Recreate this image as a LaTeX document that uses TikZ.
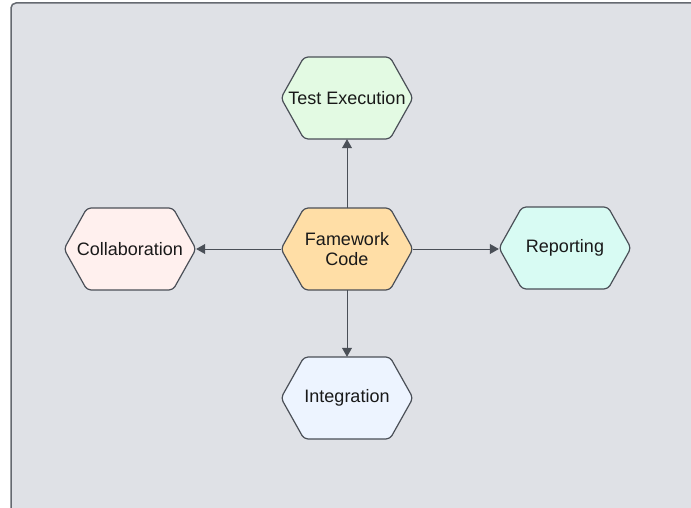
\documentclass[tikz,border=0pt]{standalone}
\usepackage{fontspec}
\setmainfont{Liberation Sans}
\usetikzlibrary{arrows.meta}
\definecolor{panel}{HTML}{DFE1E6}
\definecolor{edge}{HTML}{4A4F57}
\definecolor{fillexec}{HTML}{E3FAE3}
\definecolor{fillcode}{HTML}{FFDEA6}
\definecolor{fillcollab}{HTML}{FFF0EE}
\definecolor{fillreport}{HTML}{D8FBF3}
\definecolor{fillinteg}{HTML}{EDF4FF}
\tikzset{
  hexline/.style={draw=edge, line width=1.2pt, rounded corners=4pt},
  hexbox/.style={rectangle, minimum width=132pt, minimum height=82pt, inner sep=0pt,
    align=center, font=\fontsize{18}{20}\selectfont, text=black!90},
  link/.style={draw=edge, line width=0.8pt, -{Triangle[width=10pt,length=9pt]}}
}
% hexagone : nom, position, couleur, texte
\newcommand\hexnode[4]{%
  \draw[hexline, fill=#3] (#2) ++(-66,0) -- ++(23,41) -- ++(86,0) -- ++(23,-41)
    -- ++(-23,-41) -- ++(-86,0) -- cycle;
  \node[hexbox] (#1) at (#2) {#4};
}
\begin{document}
\begin{tikzpicture}[x=1pt,y=1pt]
    % Cadre
    \useasboundingbox (0,0) rectangle (691,-508);
    \fill[white] (0,0) rectangle (691,-508);
    \begin{scope}
        \clip (0,0) rectangle (691,-508);
        \draw[fill=panel, draw=edge!85, line width=1.5pt, rounded corners=5pt] (11,-3) rectangle (720,-540);
    \end{scope}

    % Noeuds
    \hexnode{code}{347,-249}{fillcode}{Famework\\Code}
    \hexnode{exec}{347,-98}{fillexec}{Test Execution}
    \hexnode{collab}{130,-249}{fillcollab}{Collaboration}
    \hexnode{report}{565,-248}{fillreport}{Reporting}
    \hexnode{integ}{347,-398}{fillinteg}{Integration}

    % Liens
    \draw[link] (code.north) -- (exec.south);
    \draw[link] (code.west) -- (collab.east);
    \draw[link] (code.east) -- (report.west |- code.east);
    \draw[link] (code.south) -- (integ.north);
\end{tikzpicture}
\end{document}
